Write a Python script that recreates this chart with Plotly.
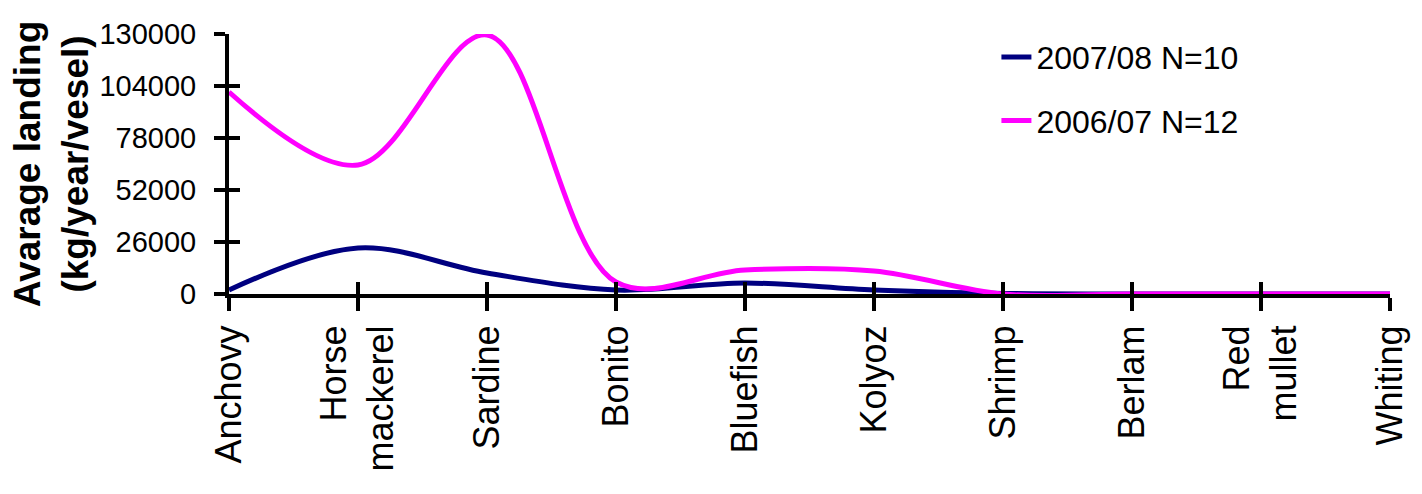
import plotly.graph_objects as go

# Species landed (category axis)
species = ["Anchovy", "Horse<br>mackerel", "Sardine", "Bonito", "Bluefish",
           "Kolyoz", "Shrimp", "Berlam", "Red<br>mullet", "Whiting"]

# Average landing per vessel (kg/year/vessel)
landing_2007_08 = [2000, 23000, 10500, 2000, 5500, 2000, 300, 0, 0, 0]
landing_2006_07 = [101000, 64500, 129500, 6000, 12000, 11500, 0, 0, 0, 0]

series_names = ["2007/08 N=10", "2006/07 N=12"]
series_colors = ["#000080", "#FF00FF"]

# Y axis ticks
y_max = 130000
y_step = 26000

FONT = "Liberation Sans, Arial, sans-serif"
x_idx = list(range(len(species)))

fig = go.Figure()
fig.add_trace(go.Scatter(
    x=x_idx, y=landing_2007_08, name=series_names[0], mode="lines",
    line=dict(color=series_colors[0], width=5, shape="spline", smoothing=1),
    legendgroup="a", xaxis="x", yaxis="y",
))
fig.add_trace(go.Scatter(
    x=x_idx, y=landing_2006_07, name=series_names[1], mode="lines",
    line=dict(color=series_colors[1], width=5, shape="spline", smoothing=1),
    legendgroup="b", xaxis="x2", yaxis="y2",
))

x_range = [0, len(species) - 1]

fig.update_layout(
    width=1422, height=494,
    margin=dict(l=229, r=24, t=34, b=200),
    paper_bgcolor="white", plot_bgcolor="white",
    font=dict(family=FONT, color="black"),
    showlegend=True,
    legend=dict(
        x=0.661, y=1.017, xanchor="left", yanchor="top",
        font=dict(size=32, family=FONT, color="black"),
        bgcolor="rgba(0,0,0,0)", traceorder="grouped", tracegroupgap=19,
    ),
    xaxis=dict(
        range=x_range, tickmode="array", tickvals=x_idx, ticktext=species,
        tickangle=-90, tickfont=dict(size=36, family=FONT),
        showline=True, linecolor="black", linewidth=4, showgrid=False,
        zeroline=False, ticks="outside", ticklen=13, tickwidth=4,
        tickcolor="black", layer="below traces", fixedrange=True,
    ),
    yaxis=dict(
        range=[0, y_max], tick0=0, dtick=y_step, tickformat="d",
        tickfont=dict(size=29, family=FONT),
        showline=True, linecolor="black", linewidth=4, showgrid=False,
        zeroline=False, ticks="outside", ticklen=11, tickwidth=4,
        tickcolor="black", ticklabelstandoff=12, layer="below traces",
        title=dict(text="<b>Avarage landing<br>(kg/year/vesel)</b>",
                   font=dict(size=37, family=FONT), standoff=0),
    ),
    # Overlay axes supply the inward half of the crossing tick marks
    xaxis2=dict(
        range=x_range, overlaying="x", anchor="y2", side="bottom",
        tickmode="array", tickvals=x_idx, showticklabels=False,
        showline=False, showgrid=False, zeroline=False,
        ticks="inside", ticklen=12, tickwidth=4, tickcolor="black",
    ),
    yaxis2=dict(
        range=[0, y_max], overlaying="y", anchor="x2", side="left",
        tick0=0, dtick=y_step, showticklabels=False,
        showline=False, showgrid=False, zeroline=False,
        ticks="inside", ticklen=11, tickwidth=4, tickcolor="black",
    ),
)

fig.write_html("out.html")
